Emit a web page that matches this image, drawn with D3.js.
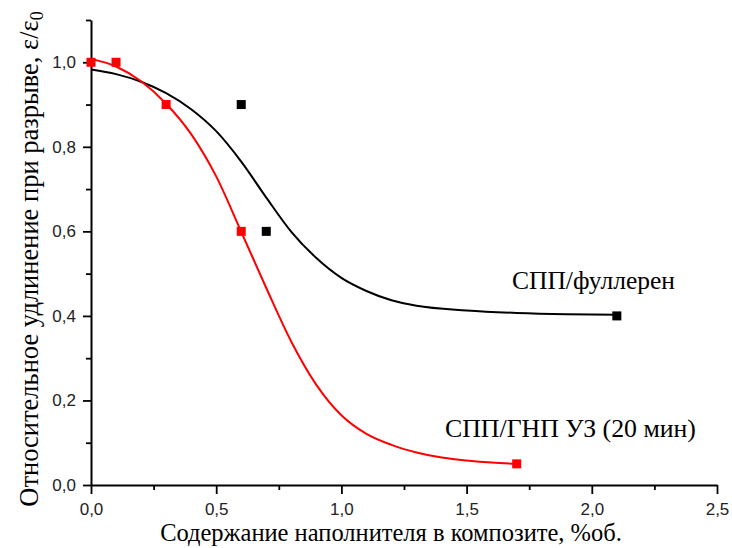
<!DOCTYPE html>
<html>
<head>
<meta charset="utf-8">
<script src="https://cdn.jsdelivr.net/npm/d3@7"></script>
<style>
  body { margin: 0; background: #fff; }
  svg { display: block; }
</style>
</head>
<body>
<div id="chart"></div>
<script>
// measured points
const fullX = [0.6, 0.7, 2.1];
const fullY = [0.9, 0.6, 0.4];
const gnpX = [0.0, 0.1, 0.3, 0.6, 1.7];
const gnpY = [1.0, 1.0, 0.9, 0.6, 0.05];

// fitted curves
const fullFitX = [0, 0.1, 0.2, 0.3, 0.4, 0.5, 0.6, 0.7, 0.8, 0.9, 1.0, 1.1, 1.2, 1.3, 1.5, 1.7, 1.9, 2.1];
const fullFitY = [0.983, 0.972, 0.954, 0.927, 0.889, 0.837, 0.765, 0.68, 0.599, 0.537, 0.49, 0.459, 0.437, 0.424, 0.413, 0.407, 0.404, 0.403];
const gnpFitX = [0, 0.1, 0.2, 0.3, 0.4, 0.5, 0.6, 0.7, 0.8, 0.9, 1.0, 1.1, 1.2, 1.3, 1.4, 1.5, 1.6, 1.7];
const gnpFitY = [1.008, 0.99, 0.955, 0.902, 0.83, 0.73, 0.599, 0.466, 0.339, 0.237, 0.165, 0.121, 0.095, 0.077, 0.065, 0.058, 0.053, 0.05];

const xTicks = [0, 0.5, 1.0, 1.5, 2.0, 2.5];
const xMinor = [0.25, 0.75, 1.25, 1.75, 2.25];
const yTicks = [0, 0.2, 0.4, 0.6, 0.8, 1.0];
const yMinor = [0.1, 0.3, 0.5, 0.7, 0.9, 1.1];

const labelFull = "СПП/фуллерен";
const labelGnp = "СПП/ГНП УЗ (20 мин)";

const width = 732, height = 548;
const margin = { left: 91, right: 15, top: 20, bottom: 63 };
const serif = "Liberation Serif, Times New Roman, serif";

const svg = d3.select("#chart").append("svg")
  .attr("width", width)
  .attr("height", height);

const x = d3.scaleLinear().domain([0, 2.5]).range([margin.left, width - margin.right]);
const y = d3.scaleLinear().domain([0, 1.1]).range([height - margin.bottom, margin.top]);

const fmt = d => d3.format(".1f")(d).replace(".", ",");

// axes
svg.append("g")
  .attr("transform", `translate(0,${y(0)})`)
  .call(d3.axisBottom(x).tickValues(xTicks).tickFormat(fmt).tickSizeInner(9).tickSizeOuter(0).tickPadding(9));
svg.append("g")
  .attr("transform", `translate(0,${y(0)})`)
  .call(d3.axisBottom(x).tickValues(xMinor).tickFormat("").tickSizeInner(5).tickSizeOuter(0))
  .select(".domain").remove();

svg.append("g")
  .attr("transform", `translate(${x(0)},0)`)
  .call(d3.axisLeft(y).tickValues(yTicks).tickFormat(fmt).tickSizeInner(8).tickSizeOuter(0).tickPadding(7));
svg.append("g")
  .attr("transform", `translate(${x(0)},0)`)
  .call(d3.axisLeft(y).tickValues(yMinor).tickFormat("").tickSizeInner(5).tickSizeOuter(0))
  .select(".domain").remove();

svg.selectAll(".domain").attr("stroke", "#000").attr("stroke-width", 2);
svg.selectAll(".tick line").attr("stroke", "#000").attr("stroke-width", 1.8);
svg.selectAll(".tick text")
  .attr("font-family", "Liberation Sans, Arial, sans-serif")
  .attr("font-size", 17)
  .attr("fill", "#222");

// axis titles
svg.append("text")
  .attr("x", 391)
  .attr("y", 541)
  .attr("text-anchor", "middle")
  .attr("font-family", serif)
  .attr("font-size", 24.5)
  .text("Содержание наполнителя в композите, %об.");

const yTitle = svg.append("text")
  .attr("transform", "translate(38,259) rotate(-90)")
  .attr("text-anchor", "middle")
  .attr("font-family", serif)
  .attr("font-size", 26.5);
yTitle.append("tspan").text("Относительное удлинение при разрыве, ε/ε");
yTitle.append("tspan").attr("font-size", 18).attr("dy", 5).text("0");

// curves
const line = d3.line()
  .x(d => x(d[0]))
  .y(d => y(d[1]))
  .curve(d3.curveMonotoneX);

svg.append("path")
  .datum(fullFitX.map((v, i) => [v, fullFitY[i]]))
  .attr("d", line)
  .attr("fill", "none")
  .attr("stroke", "#000")
  .attr("stroke-width", 2);

svg.append("path")
  .datum(gnpFitX.map((v, i) => [v, gnpFitY[i]]))
  .attr("d", line)
  .attr("fill", "none")
  .attr("stroke", "#f00")
  .attr("stroke-width", 2);

// markers
const s = 9;
svg.append("g").selectAll("rect")
  .data(fullX.map((v, i) => [v, fullY[i]]))
  .join("rect")
  .attr("x", d => x(d[0]) - s / 2)
  .attr("y", d => y(d[1]) - s / 2)
  .attr("width", s)
  .attr("height", s)
  .attr("fill", "#000");

svg.append("g").selectAll("rect")
  .data(gnpX.map((v, i) => [v, gnpY[i]]))
  .join("rect")
  .attr("x", d => x(d[0]) - s / 2)
  .attr("y", d => y(d[1]) - s / 2)
  .attr("width", s)
  .attr("height", s)
  .attr("fill", "#f00");

// series labels
svg.append("text")
  .attr("x", 512)
  .attr("y", 289)
  .attr("font-family", serif)
  .attr("font-size", 25.5)
  .text(labelFull);

svg.append("text")
  .attr("x", 445)
  .attr("y", 437)
  .attr("font-family", serif)
  .attr("font-size", 25.8)
  .text(labelGnp);
</script>
</body>
</html>
